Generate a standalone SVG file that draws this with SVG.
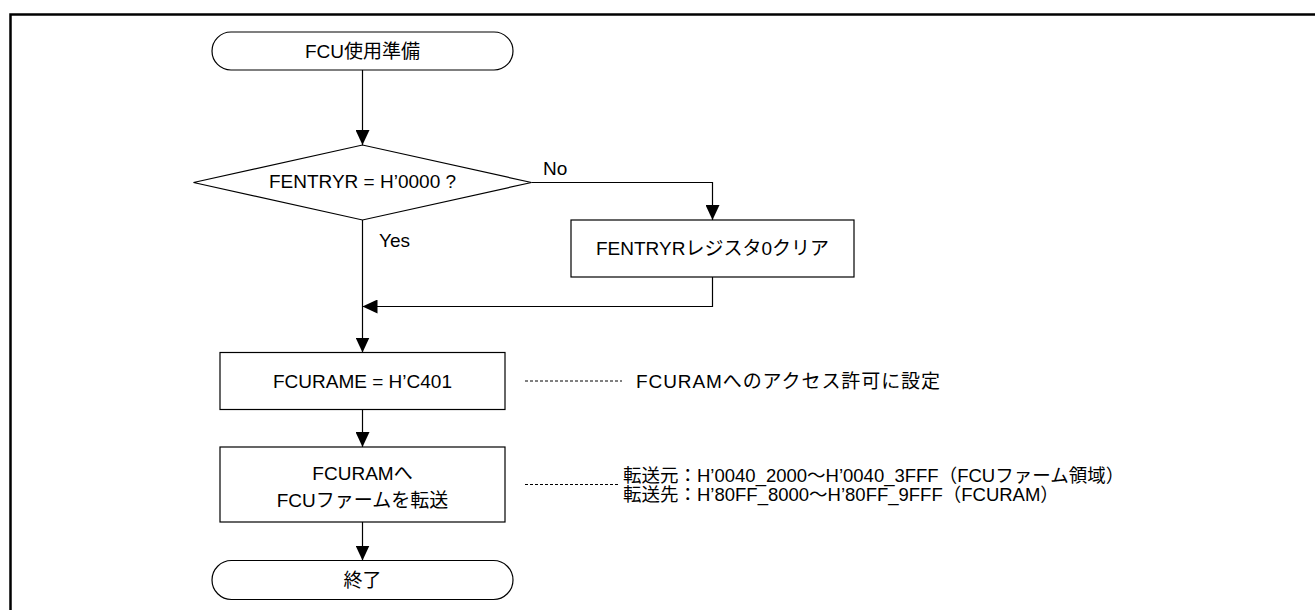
<svg xmlns="http://www.w3.org/2000/svg" width="1315" height="610" viewBox="0 0 1315 610">
<defs>
<style>
text{font-family:"Liberation Sans","Noto Sans CJK JP",sans-serif;font-size:19px;fill:#000}
.c{text-anchor:middle}
.n{font-size:18.5px}
.shape{fill:#fff;stroke:#000;stroke-width:1.2}
.conn{fill:none;stroke:#000;stroke-width:1.2}
.dash{fill:none;stroke:#000;stroke-width:1;stroke-dasharray:3 2}
</style>
<marker id="arr" viewBox="0 0 15 14" refX="15" refY="7" markerWidth="15" markerHeight="14" markerUnits="userSpaceOnUse" orient="auto">
<path d="M0,0 L15,7 L0,14 Z" fill="#000"/>
</marker>
</defs>
<rect width="1315" height="610" fill="#fff"/>
<path d="M10.5,620 V14.5 H1325" fill="none" stroke="#000" stroke-width="2.5"/>

<g id="connectors">
<path class="conn" d="M362.5,70 V145" marker-end="url(#arr)"/>
<path class="conn" d="M531.5,182.5 H712.5 V220" marker-end="url(#arr)"/>
<path class="conn" d="M712.5,277 V306.5 H362.5" marker-end="url(#arr)"/>
<path class="conn" d="M362.5,220 V352.5" marker-end="url(#arr)"/>
<path class="conn" d="M362.5,409.5 V447" marker-end="url(#arr)"/>
<path class="conn" d="M362.5,522 V560.5" marker-end="url(#arr)"/>
<path class="dash" d="M525,381 H622"/>
<path class="dash" d="M525,484.5 H620"/>
<text x="543" y="175">No</text>
<text x="379" y="247">Yes</text>
</g>

<g id="start">
<rect class="shape" x="212" y="32" width="301" height="38" rx="19" ry="19"/>
<text class="c" x="362.5" y="58">FCU使用準備</text>
</g>

<g id="decision">
<polygon class="shape" points="193.5,182.5 362.5,145 531.5,182.5 362.5,220"/>
<text class="c" x="362.5" y="188">FENTRYR = H’0000 ?</text>
</g>

<g id="clear">
<rect class="shape" x="571" y="220" width="283" height="57"/>
<text class="c" x="712.5" y="255">FENTRYRレジスタ0クリア</text>
</g>

<g id="fcurame">
<rect class="shape" x="220" y="352.5" width="285" height="57"/>
<text class="c" x="362.5" y="388">FCURAME = H’C401</text>
</g>

<g id="transfer">
<rect class="shape" x="220" y="447" width="285" height="75"/>
<text class="c" x="362.5" y="480">FCURAMへ</text>
<text class="c" x="362.5" y="507">FCUファームを転送</text>
</g>

<g id="end">
<rect class="shape" x="212" y="560.5" width="301" height="39" rx="19.5" ry="19.5"/>
<text class="c" x="362.5" y="587">終了</text>
</g>

<g id="note1">
<text x="636" y="388" textLength="304" lengthAdjust="spacing">FCURAMへのアクセス許可に設定</text>
</g>

<g id="note2">
<text class="n" x="623" y="482">転送元：H’0040_2000～H’0040_3FFF（FCUファーム領域）</text>
<text class="n" x="623" y="501">転送先：H’80FF_8000～H’80FF_9FFF（FCURAM）</text>
</g>
</svg>
